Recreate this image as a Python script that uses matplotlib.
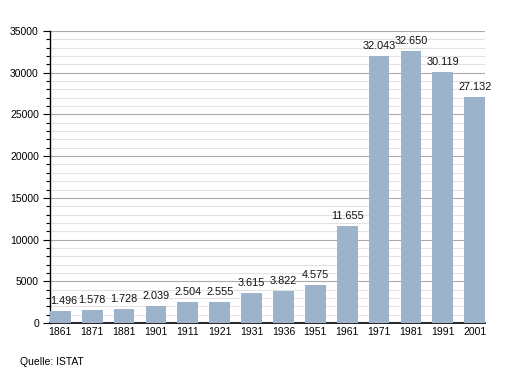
import matplotlib.pyplot as plt
from matplotlib.ticker import MultipleLocator

plt.rcParams['font.family'] = ['Liberation Sans', 'DejaVu Sans']

# Einwohner nach Volkszählung
years = ["1861", "1871", "1881", "1901", "1911", "1921", "1931",
         "1936", "1951", "1961", "1971", "1981", "1991", "2001"]
population = [1496, 1578, 1728, 2039, 2504, 2555, 3615,
              3822, 4575, 11655, 32043, 32650, 30119, 27132]
labels = ["1.496", "1.578", "1.728", "2.039", "2.504", "2.555", "3.615",
          "3.822", "4.575", "11.655", "32.043", "32.650", "30.119", "27.132"]

fig = plt.figure(figsize=(5.15, 3.73), dpi=100)
ax = fig.add_axes([50/515, 1-323/373, 435/515, 292/373])

x = range(len(years))
bars = ax.bar(x, population, width=0.65, color="#9cb3cb", zorder=3)
for i, (b, lab) in enumerate(zip(bars, labels)):
    # first label is pushed right so it doesn't sit on the axis line
    dx = 2.5 if i == 0 else 0
    ax.annotate(lab, (b.get_x() + b.get_width()/2, b.get_height()),
                xytext=(dx, 3.5), textcoords="offset points",
                ha="center", va="bottom", fontsize=7.8, color="#111111", zorder=4)

ax.set_xlim(-0.325, len(years) - 1 + 0.325)
ax.set_ylim(0, 35000)
ax.set_xticks(list(x))
ax.set_xticklabels(years, fontsize=7.5)
ax.yaxis.set_major_locator(MultipleLocator(5000))
ax.yaxis.set_minor_locator(MultipleLocator(1000))
ax.tick_params(axis="y", which="major", length=5, width=0.8, labelsize=7.5, pad=3)
ax.tick_params(axis="y", which="minor", length=3, width=0.8)
ax.tick_params(axis="x", length=0, labelsize=7.5, pad=3)

ax.grid(axis="y", which="major", color="#aaaaaa", linewidth=0.8, zorder=0)
ax.grid(axis="y", which="minor", color="#e2e2e2", linewidth=0.8, zorder=0)

for side in ["top", "right"]:
    ax.spines[side].set_visible(False)
ax.spines["left"].set_linewidth(1.0)
ax.spines["bottom"].set_linewidth(1.2)

fig.text(20/515, 1-362/373, "Quelle: ISTAT", fontsize=7.5, va="center")

fig.savefig("out.png", dpi=100)
